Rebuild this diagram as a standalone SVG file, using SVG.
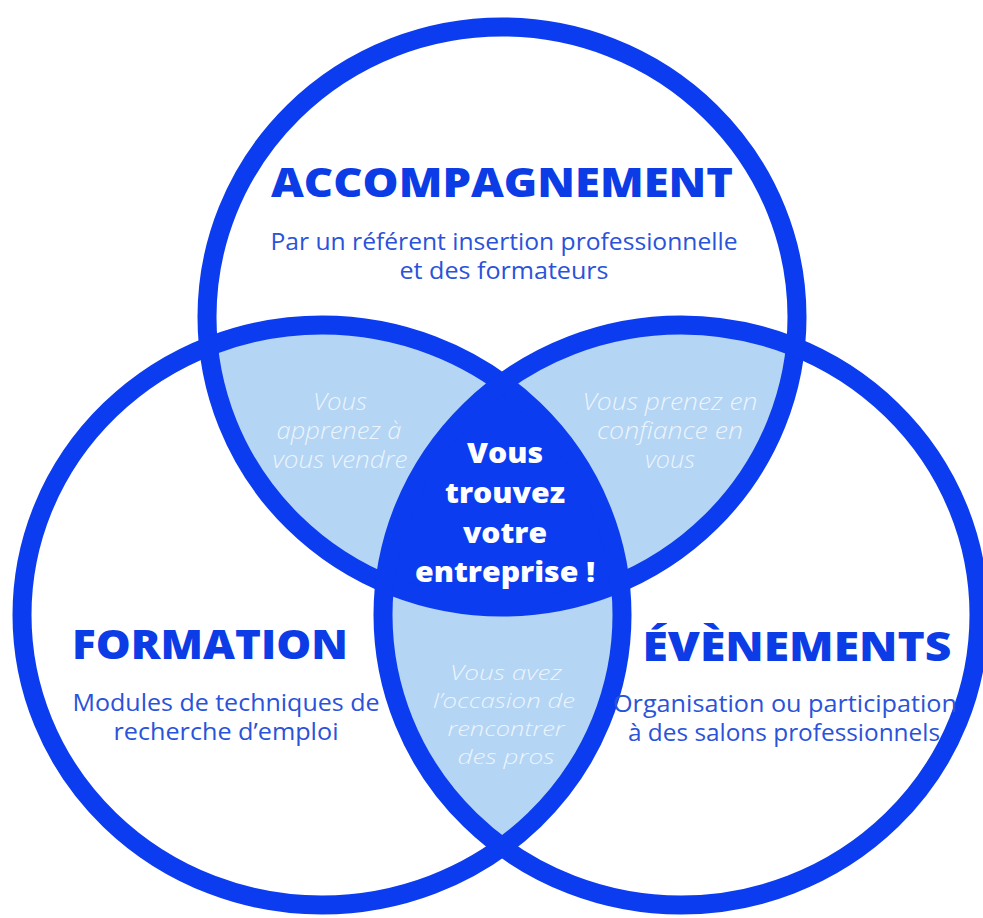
<svg xmlns="http://www.w3.org/2000/svg" width="983" height="918" viewBox="0 0 983 918">
  <style>
    .ring { fill: none; stroke: #0b3cf0; stroke-width: 19; }
    .lens { fill: #b4d5f4; }
    .core { fill: #0b3cf0; }
    text { font-family: "Open Sans", "Lato", "Liberation Sans", sans-serif; text-anchor: middle; }
    .head { font-weight: 800; fill: #0b3ce6; font-size: 41px; }
    .sub { font-weight: 400; fill: #2a52da; font-size: 23px; }
    .soft { font-weight: 300; font-style: italic; fill: #ecf4fd; font-size: 23.5px; }
    .soft2 { font-weight: 300; font-style: italic; fill: #ecf4fd; font-size: 21px; }
    .big { font-weight: 800; fill: #ffffff; font-size: 28px; }
  </style>
  <defs>
    <clipPath id="cT"><ellipse cx="502" cy="317" rx="295" ry="290"/></clipPath>
    <clipPath id="cL"><ellipse cx="322" cy="615" rx="300" ry="290"/></clipPath>
    <clipPath id="cR"><ellipse cx="681" cy="615" rx="298" ry="290"/></clipPath>
  </defs>
  <rect width="983" height="918" fill="#ffffff"/>

  <g id="overlaps">
    <g clip-path="url(#cL)"><ellipse class="lens" cx="502" cy="317" rx="295" ry="290"/></g>
    <g clip-path="url(#cR)"><ellipse class="lens" cx="502" cy="317" rx="295" ry="290"/></g>
    <g clip-path="url(#cR)"><ellipse class="lens" cx="322" cy="615" rx="300" ry="290"/></g>
    <g clip-path="url(#cT)"><g clip-path="url(#cR)"><ellipse class="core" cx="322" cy="615" rx="300" ry="290"/></g></g>
  </g>

  <g id="rings">
    <ellipse id="ring-accompagnement" class="ring" cx="502" cy="317" rx="295" ry="290"/>
    <ellipse id="ring-formation" class="ring" cx="322" cy="615" rx="300" ry="290"/>
    <ellipse id="ring-evenements" class="ring" cx="681" cy="615" rx="298" ry="290"/>
  </g>

  <g id="accompagnement">
    <text class="head" x="502" y="197" textLength="462" lengthAdjust="spacingAndGlyphs">ACCOMPAGNEMENT</text>
    <text class="sub" x="504" y="250" textLength="467" lengthAdjust="spacingAndGlyphs">Par un référent insertion professionnelle</text>
    <text class="sub" x="504" y="279" textLength="209" lengthAdjust="spacingAndGlyphs">et des formateurs</text>
  </g>

  <g id="formation">
    <text class="head" x="210" y="659" textLength="276" lengthAdjust="spacingAndGlyphs">FORMATION</text>
    <text class="sub" x="226" y="711" textLength="307" lengthAdjust="spacingAndGlyphs">Modules de techniques de</text>
    <text class="sub" x="226" y="740" textLength="225" lengthAdjust="spacingAndGlyphs">recherche d’emploi</text>
  </g>

  <g id="evenements">
    <text class="head" x="797" y="661" textLength="309" lengthAdjust="spacingAndGlyphs">ÉVÈNEMENTS</text>
    <text class="sub" x="785" y="712" textLength="344" lengthAdjust="spacingAndGlyphs">Organisation ou participation</text>
    <text class="sub" x="784" y="741" textLength="312" lengthAdjust="spacingAndGlyphs">à des salons professionnels</text>
  </g>

  <g id="lens-vendre">
    <text class="soft" x="340" y="410" textLength="54" lengthAdjust="spacingAndGlyphs">Vous</text>
    <text class="soft" x="339" y="439" textLength="125" lengthAdjust="spacingAndGlyphs">apprenez à</text>
    <text class="soft" x="340" y="468" textLength="135" lengthAdjust="spacingAndGlyphs">vous vendre</text>
  </g>

  <g id="lens-confiance">
    <text class="soft" x="670" y="410" textLength="175" lengthAdjust="spacingAndGlyphs">Vous prenez en</text>
    <text class="soft" x="670" y="439" textLength="146" lengthAdjust="spacingAndGlyphs">confiance en</text>
    <text class="soft" x="670" y="468" textLength="50" lengthAdjust="spacingAndGlyphs">vous</text>
  </g>

  <g id="lens-pros">
    <text class="soft2" x="506" y="680" textLength="112" lengthAdjust="spacingAndGlyphs">Vous avez</text>
    <text class="soft2" x="504" y="708" textLength="142" lengthAdjust="spacingAndGlyphs">l’occasion de</text>
    <text class="soft2" x="506" y="736" textLength="117" lengthAdjust="spacingAndGlyphs">rencontrer</text>
    <text class="soft2" x="506" y="764" textLength="97" lengthAdjust="spacingAndGlyphs">des pros</text>
  </g>

  <g id="center">
    <text class="big" x="505" y="463" textLength="76" lengthAdjust="spacingAndGlyphs">Vous</text>
    <text class="big" x="505" y="503" textLength="120" lengthAdjust="spacingAndGlyphs">trouvez</text>
    <text class="big" x="505" y="543" textLength="84" lengthAdjust="spacingAndGlyphs">votre</text>
    <text class="big" x="505" y="582" textLength="180" lengthAdjust="spacingAndGlyphs">entreprise !</text>
  </g>
</svg>
